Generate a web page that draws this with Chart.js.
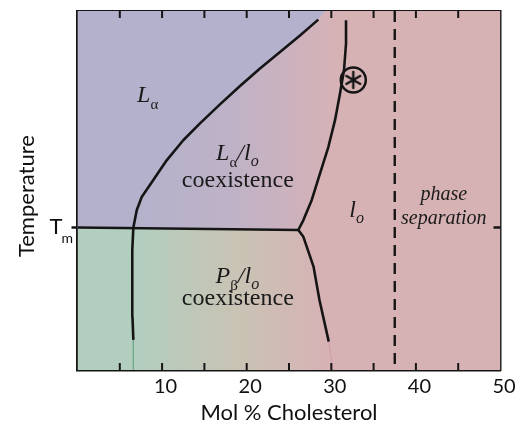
<!DOCTYPE html>
<html>
<head>
<meta charset="utf-8">
<script src="https://cdn.jsdelivr.net/npm/chart.js@4.4.1/dist/chart.umd.min.js"></script>
<style>
  html, body { margin: 0; padding: 0; background: #fff; }
</style>
</head>
<body>
<canvas id="phaseChart" width="515" height="425"></canvas>
<script>
// x = mol % cholesterol, y = temperature (arbitrary units, Tm near 40)
const xTickLabels = [10, 20, 30, 40, 50];
const tmValue = 39.7;

// L-alpha boundary, from the bottom of the figure up to the top
const leftCurveX = [6.6, 6.5, 6.45, 6.5, 6.6, 7.0, 7.59, 8.96, 10.54, 12.5, 14.48, 16.84, 19.21, 21.57, 23.94, 26.3, 28.46];
const leftCurveY = [8.4, 14.8, 24.1, 33.4, 39.6, 44.5, 48.2, 52.9, 58.4, 64.0, 68.7, 74.0, 79.1, 84.0, 88.6, 93.2, 97.6];

// l-o boundary above Tm, from the junction up
const rightUpperX = [26.1, 26.69, 27.68, 28.66, 29.65, 30.44, 31.03, 31.5, 31.74, 31.74];
const rightUpperY = [39.0, 41.7, 47.3, 54.7, 62.1, 69.6, 77.0, 83.5, 90.9, 97.4];

// l-o boundary below Tm, from the junction down
const rightLowerX = [26.1, 26.7, 27.9, 28.6, 29.7];
const rightLowerY = [39.0, 37.1, 28.8, 19.5, 7.9];

// Tm line and phase separation line
const tmLineX = [0, 26.1];
const tmLineY = [39.7, 39.0];
const separationX = 37.5;

// marker position
const markerX = 32.6;
const markerY = 80.8;

const pink = '#d7b2b5';
const purple = '#b3b1cb';
const green = '#b1cebf';
const beige = '#c9c3b4';
const lineColor = '#151515';
const serif = '"Liberation Serif", "Times New Roman", serif';
const sans = 'Lato, "Liberation Sans", sans-serif';

function pts(xs, ys) {
  return xs.map((x, i) => ({ x: x, y: ys[i] }));
}

function hGradient(stops) {
  return function (ctx) {
    const chart = ctx.chart;
    if (!chart.chartArea) return stops[0][1];
    const xs = chart.scales.x;
    const first = stops[0][0], last = stops[stops.length - 1][0];
    const g = chart.ctx.createLinearGradient(xs.getPixelForValue(first), 0, xs.getPixelForValue(last), 0);
    stops.forEach(s => g.addColorStop((s[0] - first) / (last - first), s[1]));
    return g;
  };
}

// asterisk drawn once, used as a point style
const star = document.createElement('canvas');
star.width = 20; star.height = 20;
(function () {
  const c = star.getContext('2d');
  c.strokeStyle = lineColor;
  c.lineWidth = 2.4;
  c.lineCap = 'round';
  for (let k = 0; k < 3; k++) {
    const a = Math.PI / 2 + k * Math.PI / 3;
    c.beginPath();
    c.moveTo(10 + Math.cos(a) * 8, 10 - Math.sin(a) * 8);
    c.lineTo(10 - Math.cos(a) * 8, 10 + Math.sin(a) * 8);
    c.stroke();
  }
})();

const upperRegion = pts([0].concat(rightUpperX, [31.8]), [tmLineY[0]].concat(rightUpperY, [100]));
const alphaRegion = pts([0].concat(leftCurveX.slice(4), [29.3]), [tmLineY[0]].concat(leftCurveY.slice(4), [100]));
const lowerRegion = pts([0].concat(rightLowerX, [30.2]), [tmLineY[0]].concat(rightLowerY, [0]));

const base = { showLine: true, pointRadius: 0, tension: 0, borderWidth: 0 };
const blackLine = { showLine: true, pointRadius: 0, tension: 0, borderColor: lineColor, borderWidth: 2.6,
  borderJoinStyle: 'round', borderCapStyle: 'butt', fill: false, order: 1 };

const datasets = [
  Object.assign({}, base, { label: 'bg', data: pts([0, 50], [100, 100]), fill: 'start', backgroundColor: pink, order: 10 }),
  Object.assign({}, base, { label: 'upper', data: upperRegion, fill: 'end',
    backgroundColor: hGradient([[6.5, purple], [18, '#beb2c7'], [31, pink]]), order: 9 }),
  Object.assign({}, base, { label: 'alpha', data: alphaRegion, fill: 'end', backgroundColor: purple, order: 8 }),
  Object.assign({}, base, { label: 'lower', data: lowerRegion, fill: 'start',
    backgroundColor: hGradient([[6.6, green], [19, beige], [29.5, pink]]), order: 8 }),
  Object.assign({}, base, { label: 'edge1', data: pts([6.6, 6.6], [8.4, 0]), borderWidth: 1, borderColor: 'rgba(110,165,140,0.7)', fill: false, order: 5 }),
  Object.assign({}, base, { label: 'edge2', data: pts([29.7, 30.2], [7.9, 0]), borderWidth: 1, borderColor: 'rgba(205,150,160,0.8)', fill: false, order: 5 }),
  Object.assign({}, blackLine, { label: 'left', data: pts(leftCurveX, leftCurveY) }),
  Object.assign({}, blackLine, { label: 'tm', data: pts(tmLineX, tmLineY) }),
  Object.assign({}, blackLine, { label: 'rightU', data: pts(rightUpperX, rightUpperY) }),
  Object.assign({}, blackLine, { label: 'rightL', data: pts(rightLowerX, rightLowerY) }),
  Object.assign({}, blackLine, { label: 'sep', data: pts([separationX, separationX], [100, 0]), borderDash: [11, 7], borderWidth: 2.4 }),
  { label: 'ring', data: [{ x: markerX, y: markerY }], showLine: false, pointStyle: 'circle', pointRadius: 12.5,
    pointBorderWidth: 2.5, pointBorderColor: lineColor, pointBackgroundColor: 'rgba(0,0,0,0)', order: 0 },
  { label: 'star', data: [{ x: markerX, y: markerY }], showLine: false, pointStyle: star, pointRadius: 10, order: 0 }
];

// region labels
const textLabels = [
  { x: 8.3, y: 74.6, parts: [['L', 'italic 24px', 0], ['α', '15px', 7]] },
  { x: 18.9, y: 58.6, parts: [['L', 'italic 24px', 0], ['α', '15px', 7], ['/l', 'italic 24px', 0], ['o', 'italic 16px', 6]] },
  { x: 18.95, y: 51.0, parts: [['coexistence', '24px', 0]] },
  { x: 18.9, y: 24.1, parts: [['P', 'italic 24px', 0], ['β', '15px', 7], ['/l', 'italic 24px', 0], ['o', 'italic 16px', 6]] },
  { x: 18.95, y: 18.1, parts: [['coexistence', '24px', 0]] },
  { x: 33.0, y: 42.7, parts: [['l', 'italic 24px', 0], ['o', 'italic 16px', 6]] },
  { x: 43.3, y: 47.3, parts: [['phase', 'italic 20px', 0]] },
  { x: 43.3, y: 40.8, parts: [['separation', 'italic 20px', 0]] }
];

// inward tick marks on top, bottom and the right-hand Tm tick
const innerTicks = {
  id: 'innerTicks',
  afterDatasetsDraw(chart) {
    const ctx = chart.ctx;
    const area = chart.chartArea;
    ctx.save();
    ctx.strokeStyle = lineColor;
    ctx.lineWidth = 2;
    ['x', 'xTop'].forEach(id => {
      const s = chart.scales[id];
      const y0 = id === 'x' ? area.bottom : area.top;
      const dir = id === 'x' ? -1 : 1;
      s.ticks.forEach(t => {
        if (t.value <= s.min || t.value >= s.max) return;
        const px = s.getPixelForValue(t.value);
        ctx.beginPath();
        ctx.moveTo(px, y0);
        ctx.lineTo(px, y0 + dir * 7);
        ctx.stroke();
      });
    });
    const r = chart.scales.yRight;
    const py = r.getPixelForValue(tmValue);
    ctx.lineWidth = 2.5;
    ctx.beginPath();
    ctx.moveTo(area.right, py);
    ctx.lineTo(area.right - 7, py);
    ctx.stroke();
    ctx.restore();
  }
};

const labelPlugin = {
  id: 'phaseLabels',
  afterDatasetsDraw(chart) {
    const ctx = chart.ctx;
    const xs = chart.scales.x, ys = chart.scales.y;
    ctx.save();
    ctx.fillStyle = '#1a1a1a';
    ctx.textBaseline = 'alphabetic';
    ctx.textAlign = 'left';
    textLabels.forEach(l => {
      let w = 0;
      const widths = l.parts.map(p => {
        ctx.font = p[1] + ' ' + serif;
        const m = ctx.measureText(p[0]).width;
        w += m;
        return m;
      });
      let px = xs.getPixelForValue(l.x) - w / 2;
      const py = ys.getPixelForValue(l.y);
      l.parts.forEach((p, i) => {
        ctx.font = p[1] + ' ' + serif;
        ctx.fillText(p[0], px, py + p[2]);
        px += widths[i];
      });
    });
    // T_m label beside the axis tick
    const ty = ys.getPixelForValue(tmValue);
    const left = chart.chartArea.left;
    ctx.fillStyle = '#111';
    ctx.font = '22px ' + sans;
    ctx.fillText('T', left - 28, ty + 7);
    ctx.font = '14px ' + sans;
    ctx.fillText('m', left - 16, ty + 16);
    ctx.restore();
  }
};

const tmTick = scale => { scale.ticks = [{ value: tmValue }]; };
const noPadX = s => { s.paddingLeft = 0; s.paddingRight = 0; };
const noPadY = s => { s.paddingTop = 0; s.paddingBottom = 0; };
const plainGrid = { drawOnChartArea: false, drawTicks: false };
const frame = { display: true, color: lineColor, width: 2.5 };

new Chart(document.getElementById('phaseChart'), {
  type: 'scatter',
  data: { datasets: datasets },
  plugins: [innerTicks, labelPlugin],
  options: {
    responsive: false,
    animation: false,
    events: [],
    layout: { padding: 0, autoPadding: false },
    plugins: { legend: { display: false }, tooltip: { enabled: false } },
    scales: {
      x: {
        type: 'linear', position: 'bottom', min: 0, max: 50, z: 1,
        afterFit: s => { s.height = 55; noPadX(s); },
        ticks: {
          stepSize: 5, autoSkip: false, maxRotation: 0, padding: 5, labelOffset: 3.5,
          callback: v => xTickLabels.includes(v) ? String(v) : '',
          font: { family: sans, size: 20 }, color: '#111'
        },
        grid: plainGrid,
        border: frame,
        title: { display: true, text: 'Mol % Cholesterol', font: { family: sans, size: 22, lineHeight: 1.1 }, color: '#111', padding: { top: 0, bottom: 0 } }
      },
      xTop: {
        type: 'linear', position: 'top', min: 0, max: 50, z: 1,
        afterFit: s => { s.height = 11; noPadX(s); },
        ticks: { stepSize: 5, display: false },
        grid: plainGrid,
        border: frame
      },
      y: {
        type: 'linear', position: 'left', min: 0, max: 100, z: 1,
        afterFit: s => { s.width = 77.5; noPadY(s); },
        afterBuildTicks: tmTick,
        ticks: { display: false },
        grid: { drawOnChartArea: false, tickLength: 6, tickWidth: 2.5, color: lineColor },
        border: frame,
        title: { display: true, text: 'Temperature  ', font: { family: sans, size: 22 }, color: '#111', padding: { top: 14, bottom: 0 } }
      },
      yRight: {
        type: 'linear', position: 'right', min: 0, max: 100, z: 1,
        afterFit: s => { s.width = 14.5; noPadY(s); },
        afterBuildTicks: tmTick,
        ticks: { display: false },
        grid: plainGrid,
        border: frame
      }
    }
  }
});
</script>
</body>
</html>
